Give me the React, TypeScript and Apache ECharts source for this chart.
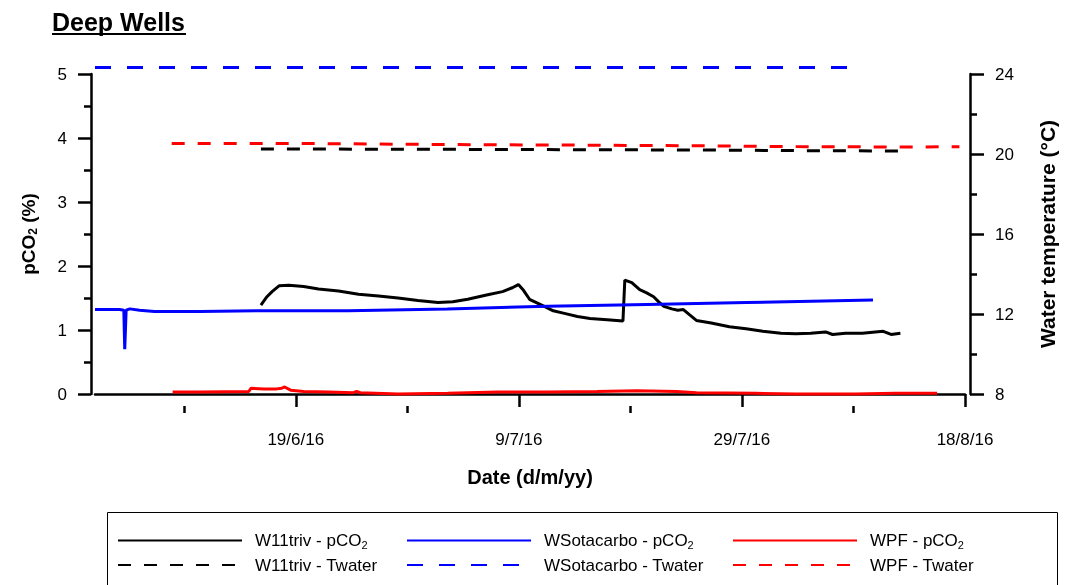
import React, { useEffect, useRef } from 'react';
import * as echarts from 'echarts';

const FONT = '"Liberation Sans", Arial, Helvetica, sans-serif';

// x range and tick dates (d/m/yy)
const X_MIN = '2016-06-01T00:00';
const X_MAX = '2016-08-18T00:00';
const X_MAJOR_TICKS = ['2016-06-19T00:00', '2016-07-09T00:00', '2016-07-29T00:00', '2016-08-18T00:00'];
const X_MINOR_TICKS = ['2016-06-09T00:00', '2016-06-29T00:00', '2016-07-19T00:00', '2016-08-08T00:00'];

// pCO2 (%) series
const W11TRIV_PCO2: [string, number][] = [
  ['2016-06-15T21:00', 1.39], ['2016-06-16T10:00', 1.52], ['2016-06-16T21:00', 1.60],
  ['2016-06-17T12:00', 1.69], ['2016-06-18T09:00', 1.70], ['2016-06-19T17:00', 1.68],
  ['2016-06-21T01:00', 1.64], ['2016-06-22T20:00', 1.61], ['2016-06-24T15:00', 1.56],
  ['2016-06-26T10:00', 1.53], ['2016-06-28T04:00', 1.50], ['2016-06-29T23:00', 1.46],
  ['2016-07-01T18:00', 1.43], ['2016-07-03T02:00', 1.44], ['2016-07-04T10:00', 1.48],
  ['2016-07-06T05:00', 1.55], ['2016-07-07T13:00', 1.60], ['2016-07-08T10:00', 1.66],
  ['2016-07-08T23:00', 1.71], ['2016-07-09T10:00', 1.62], ['2016-07-09T23:00', 1.48],
  ['2016-07-10T16:00', 1.42], ['2016-07-11T09:00', 1.36], ['2016-07-12T02:00', 1.30],
  ['2016-07-13T02:00', 1.26], ['2016-07-14T06:00', 1.21], ['2016-07-15T09:00', 1.18],
  ['2016-07-16T22:00', 1.16], ['2016-07-18T08:00', 1.14], ['2016-07-18T12:00', 1.78],
  ['2016-07-19T03:00', 1.74], ['2016-07-19T20:00', 1.63], ['2016-07-20T11:00', 1.58],
  ['2016-07-21T02:00', 1.52], ['2016-07-21T13:00', 1.44], ['2016-07-22T00:00', 1.37],
  ['2016-07-22T17:00', 1.33], ['2016-07-23T06:00', 1.31], ['2016-07-23T18:00', 1.32],
  ['2016-07-24T07:00', 1.24], ['2016-07-24T22:00', 1.15], ['2016-07-26T06:00', 1.11],
  ['2016-07-27T21:00', 1.05], ['2016-07-29T09:00', 1.02], ['2016-07-30T21:00', 0.98],
  ['2016-08-01T12:00', 0.95], ['2016-08-02T20:00', 0.94], ['2016-08-04T04:00', 0.95],
  ['2016-08-05T12:00', 0.97], ['2016-08-06T03:00', 0.93], ['2016-08-07T07:00', 0.95],
  ['2016-08-08T19:00', 0.95], ['2016-08-09T23:00', 0.97], ['2016-08-10T16:00', 0.98],
  ['2016-08-11T09:00', 0.93], ['2016-08-12T05:00', 0.95],
];
const WSOTACARBO_PCO2: [string, number][] = [
  ['2016-06-01T00:00', 1.32], ['2016-06-03T05:00', 1.32], ['2016-06-03T14:00', 1.31],
  ['2016-06-03T16:00', 0.70], ['2016-06-03T19:00', 1.31], ['2016-06-04T03:00', 1.33],
  ['2016-06-05T00:00', 1.31], ['2016-06-06T08:00', 1.29], ['2016-06-10T09:00', 1.29],
  ['2016-06-15T17:00', 1.30], ['2016-06-23T17:00', 1.30], ['2016-07-02T14:00', 1.33],
  ['2016-07-11T14:00', 1.37], ['2016-07-20T12:00', 1.40], ['2016-07-29T10:00', 1.43],
  ['2016-08-09T18:00', 1.47],
];
const WPF_PCO2: [string, number][] = [
  ['2016-06-07T23:00', 0.03], ['2016-06-10T09:00', 0.03], ['2016-06-14T19:00', 0.04],
  ['2016-06-15T00:00', 0.09], ['2016-06-16T04:00', 0.08], ['2016-06-17T07:00', 0.08],
  ['2016-06-17T18:00', 0.09], ['2016-06-18T00:00', 0.11], ['2016-06-18T13:00', 0.06],
  ['2016-06-19T17:00', 0.04], ['2016-06-21T23:00', 0.03], ['2016-06-24T04:00', 0.02],
  ['2016-06-24T11:00', 0.04], ['2016-06-24T19:00', 0.02], ['2016-06-28T04:00', 0.00],
  ['2016-07-02T15:00', 0.01], ['2016-07-07T02:00', 0.03], ['2016-07-11T13:00', 0.03],
  ['2016-07-16T00:00', 0.04], ['2016-07-19T14:00', 0.05], ['2016-07-23T03:00', 0.04],
  ['2016-07-24T22:00', 0.02], ['2016-07-30T06:00', 0.01], ['2016-08-02T20:00', 0.00],
  ['2016-08-08T04:00', 0.00], ['2016-08-11T18:00', 0.01], ['2016-08-15T12:00', 0.01],
];

// Water temperature (°C) series
const W11TRIV_TWATER: [string, number][] = [
  ['2016-06-15T21:00', 20.25], ['2016-06-28T04:00', 20.24], ['2016-07-11T14:00', 20.22],
  ['2016-07-24T22:00', 20.20], ['2016-08-02T20:00', 20.17], ['2016-08-12T05:00', 20.15],
];
const WSOTACARBO_TWATER: [string, number][] = [
  ['2016-06-01T00:00', 24.32], ['2016-06-25T00:00', 24.32], ['2016-07-15T00:00', 24.32],
  ['2016-08-08T19:00', 24.32],
];
const WPF_TWATER: [string, number][] = [
  ['2016-06-07T21:00', 20.52], ['2016-06-19T06:00', 20.53], ['2016-06-28T04:00', 20.49],
  ['2016-07-07T02:00', 20.46], ['2016-07-16T00:00', 20.44], ['2016-07-24T22:00', 20.41],
  ['2016-08-02T20:00', 20.37], ['2016-08-11T18:00', 20.35], ['2016-08-17T12:00', 20.36],
];

const PCO2_NAMES = ['W11triv - pCO2', 'WSotacarbo - pCO2', 'WPF - pCO2'];
const TWATER_NAMES = ['W11triv - Twater', 'WSotacarbo - Twater', 'WPF - Twater'];
const COLORS = ['#000000', '#0000ff', '#ff0000'];

const t = (s: string) => new Date(s).getTime();
const fmtDate = (v: number) => {
  const d = new Date(v);
  return `${d.getDate()}/${d.getMonth() + 1}/${String(d.getFullYear()).slice(2)}`;
};

export default function App() {
  const ref = useRef<HTMLDivElement>(null);
  useEffect(() => {
    document.body.style.margin = '0';
    document.body.style.overflow = 'hidden';
    if (!ref.current) return;
    const chart = echarts.init(ref.current, undefined, { renderer: 'svg' });

    const mk = (name: string, data: [string, number][], color: string, yAxisIndex: number, dash: any) => ({
      type: 'line',
      name,
      data: data.map(([d, v]) => [t(d), v]),
      xAxisIndex: 0,
      yAxisIndex,
      symbol: 'none',
      clip: false,
      silent: true,
      lineStyle: { color, width: 3, type: dash },
      itemStyle: { color },
    });

    const pco2Data = [W11TRIV_PCO2, WSOTACARBO_PCO2, WPF_PCO2];
    const twData = [W11TRIV_TWATER, WSOTACARBO_TWATER, WPF_TWATER];
    const dashes = [[13, 13], [16, 16], [13, 13]];

    const series: any[] = [];
    for (let i = 0; i < 3; i++) series.push(mk(TWATER_NAMES[i], twData[i], COLORS[i], 1, dashes[i]));
    for (let i = 0; i < 3; i++) series.push(mk(PCO2_NAMES[i], pco2Data[i], COLORS[i], 0, 'solid'));

    const richLegend = {
      n: { fontFamily: FONT, fontSize: 17, color: '#000', lineHeight: 20 },
      s: { fontFamily: FONT, fontSize: 11, color: '#000', lineHeight: 12, verticalAlign: 'bottom' },
    };
    const legendFmt = (name: string) =>
      name.endsWith('pCO2') ? `{n|${name.slice(0, -1)}}{s|2}` : `{n|${name}}`;
    const LEG_LEFT = [117, 406, 732];

    const axisLine = { show: true, lineStyle: { color: '#000', width: 2.5 } };
    const tickStyle = { color: '#000', width: 2.5 };
    const labelStyle = { fontFamily: FONT, fontSize: 17, color: '#000' };

    chart.setOption({
      animation: false,
      grid: { left: 95, right: 94, top: 74, bottom: 191, containLabel: false },
      xAxis: [
        {
          type: 'value',
          min: t(X_MIN),
          max: t(X_MAX),
          position: 'bottom',
          offset: 12,
          axisLine,
          axisTick: { show: true, length: 13, lineStyle: tickStyle, customValues: X_MAJOR_TICKS.map(t) },
          axisLabel: { ...labelStyle, margin: 25, customValues: X_MAJOR_TICKS.map(t), formatter: (v: number) => fmtDate(v) },
          splitLine: { show: false },
          name: 'Date (d/m/yy)',
          nameLocation: 'middle',
          nameGap: 61,
          nameTextStyle: { fontFamily: FONT, fontSize: 20, fontWeight: 'bold', color: '#000' },
        },
        {
          type: 'value',
          min: t(X_MIN),
          max: t(X_MAX),
          position: 'bottom',
          offset: 12,
          axisLine: { show: false },
          axisTick: { show: true, length: 7, lineStyle: tickStyle, customValues: X_MINOR_TICKS.map(t) },
          axisLabel: { show: false },
          splitLine: { show: false },
        },
      ],
      yAxis: [
        {
          type: 'value',
          min: 0,
          max: 5,
          interval: 1,
          position: 'left',
          offset: 4,
          axisLine,
          axisTick: { show: true, length: 13, lineStyle: tickStyle },
          minorTick: { show: true, splitNumber: 2, length: 7, lineStyle: tickStyle },
          axisLabel: { ...labelStyle, margin: 24 },
          splitLine: { show: false },
          minorSplitLine: { show: false },
          name: '{b|pCO}{s|2}{b| (%)}',
          nameLocation: 'middle',
          nameRotate: 90,
          nameGap: 52,
          nameTextStyle: {
            rich: {
              b: { fontFamily: FONT, fontSize: 19, fontWeight: 'bold', color: '#000', lineHeight: 22 },
              s: { fontFamily: FONT, fontSize: 12, fontWeight: 'bold', color: '#000', lineHeight: 12, verticalAlign: 'bottom' },
            },
          },
        },
        {
          type: 'value',
          min: 8,
          max: 24,
          interval: 4,
          position: 'right',
          offset: 5,
          axisLine,
          axisTick: { show: true, length: 14, lineStyle: tickStyle },
          minorTick: { show: true, splitNumber: 2, length: 7, lineStyle: tickStyle },
          axisLabel: { ...labelStyle, margin: 25 },
          splitLine: { show: false },
          minorSplitLine: { show: false },
          name: 'Water temperature (°C)',
          nameLocation: 'middle',
          nameRotate: 90,
          nameGap: 67,
          nameTextStyle: { fontFamily: FONT, fontSize: 21, fontWeight: 'bold', color: '#000' },
        },
      ],
      legend: [0, 1, 2].map((i) => ({
        data: [PCO2_NAMES[i], TWATER_NAMES[i]],
        orient: 'vertical',
        left: LEG_LEFT[i],
        top: 532,
        padding: 0,
        itemWidth: 124,
        itemHeight: 14,
        itemGap: 6,
        selectedMode: false,
        formatter: legendFmt,
        itemStyle: { opacity: 0 },
        textStyle: { fontFamily: FONT, fontSize: 17, color: '#000', padding: [0, 0, 0, 8], rich: richLegend },
      })),
      graphic: [
        {
          type: 'text',
          left: 52,
          top: 9,
          style: { text: 'Deep Wells', font: `bold 25px ${FONT}`, fill: '#000' },
        },
        {
          type: 'line',
          shape: { x1: 52, y1: 34, x2: 186, y2: 34 },
          style: { stroke: '#000', lineWidth: 2 },
        },
        {
          type: 'rect',
          shape: { x: 107.5, y: 512.5, width: 950, height: 100 },
          style: { fill: 'none', stroke: '#000', lineWidth: 1 },
        },
      ],
      series,
    });
    return () => chart.dispose();
  }, []);
  return (
    <div
      ref={ref}
      style={{ position: 'fixed', left: 0, top: 0, width: 1066, height: 585, overflow: 'hidden' }}
    />
  );
}
